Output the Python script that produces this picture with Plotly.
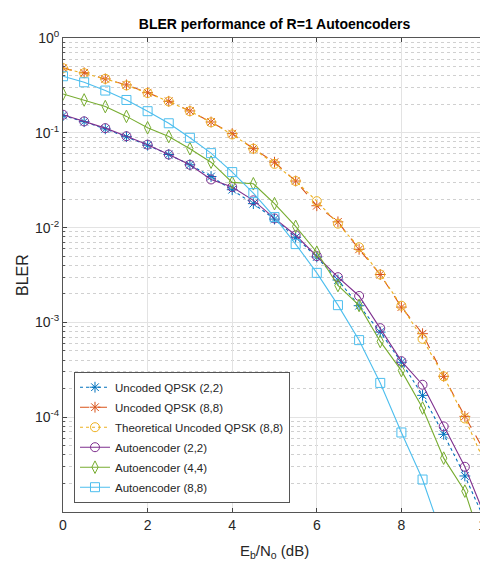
import plotly.graph_objects as go

ebn0 = [0, 0.5, 1, 1.5, 2, 2.5, 3, 3.5, 4, 4.5, 5, 5.5, 6, 6.5, 7, 7.5, 8, 8.5, 9, 9.5, 10]

uncoded_22 = [0.152, 0.131, 0.110, 0.091, 0.074, 0.059, 0.046, 0.0346, 0.0251, 0.0179, 0.0123,
              0.0079, 0.0049, 0.0028, 0.0015, 7.9e-4, 3.8e-4, 1.7e-4, 6.6e-5, 2.4e-5, 7.7e-6]
uncoded_88 = [0.48, 0.43, 0.37, 0.32, 0.265, 0.215, 0.17, 0.13, 0.098, 0.068, 0.049,
              0.031, 0.017, 0.0115, 0.0059, 0.0032, 0.00145, 7.6e-4, 2.7e-4, 1.02e-4, 4.1e-5]
theory_88 = [0.481, 0.426, 0.371, 0.316, 0.263, 0.214, 0.169, 0.129, 0.096, 0.068, 0.047,
             0.031, 0.019, 0.011, 0.0062, 0.0032, 0.0015, 6.7e-4, 2.7e-4, 9.7e-5, 3.1e-5]
ae_22 = [0.155, 0.132, 0.112, 0.092, 0.075, 0.059, 0.046, 0.0322, 0.0268, 0.0194, 0.0125,
         0.0083, 0.0050, 0.0030, 0.0019, 8.7e-4, 3.9e-4, 2.2e-4, 8.0e-5, 3.0e-5, 8.5e-6]
ae_44 = [0.257, 0.222, 0.189, 0.149, 0.113, 0.0914, 0.068, 0.049, 0.030, 0.029, 0.0179,
         0.0103, 0.0055, 0.00245, 0.00151, 6.3e-4, 3.1e-4, 1.25e-4, 3.7e-5, 1.66e-5, 3.4e-6]
ae_88_x = [0, 0.5, 1, 1.5, 2, 2.5, 3, 3.5, 4, 4.5, 5, 5.5, 6, 6.5, 7, 7.5, 8, 8.5, 9]
ae_88 = [0.395, 0.341, 0.279, 0.222, 0.169, 0.126, 0.0886, 0.061, 0.0385, 0.0231, 0.0129,
         0.0067, 0.00333, 0.00152, 6.5e-4, 2.3e-4, 6.9e-5, 2.2e-5, 5.0e-6]

legend_names = ["Uncoded QPSK (2,2)", "Uncoded QPSK (8,8)", "Theoretical Uncoded QPSK (8,8)",
                "Autoencoder (2,2)", "Autoencoder (4,4)", "Autoencoder (8,8)"]
ytick_vals = [1, 0.1, 0.01, 0.001, 0.0001]
ytick_text = ["10<sup>0</sup>", "10<sup>-1</sup>", "10<sup>-2</sup>", "10<sup>-3</sup>", "10<sup>-4</sup>"]
xtick_vals = [0, 2, 4, 6, 8, 10]

FONT = "Liberation Sans, Arial, Helvetica, sans-serif"

series = [
    (ebn0, uncoded_22, legend_names[0], "#0072BD", "dot", "asterisk-open"),
    (ebn0, uncoded_88, legend_names[1], "#D95319", "dash", "asterisk-open"),
    (ebn0, theory_88, legend_names[2], "#EDB120", "dot", "circle-open"),
    (ebn0, ae_22, legend_names[3], "#7E2F8E", "solid", "circle-open"),
    (ebn0, ae_44, legend_names[4], "#77AC30", "solid", "diamond-tall-open"),
    (ae_88_x, ae_88, legend_names[5], "#4DBEEE", "solid", "square-open"),
]

fig = go.Figure()
for xs, ys, name, col, dash, sym in series:
    fig.add_trace(go.Scatter(
        x=xs, y=ys, name=name, mode="lines+markers", legendgroup=name,
        line=dict(color=col, width=1.1, dash=dash),
        marker=dict(symbol=sym, size=9, color=col, line=dict(color=col, width=1)),
        cliponaxis=True,
    ))

# page body has an 8px default margin, so the figure is 8px smaller and shifted
W, H = 480, 561
fig.update_layout(
    width=W, height=H,
    margin=dict(l=55, r=2, t=30, b=57, autoexpand=False),
    paper_bgcolor="white", plot_bgcolor="white",
    font=dict(family=FONT, size=14, color="#262626"),
    title=dict(text="<b>BLER performance of R=1 Autoencoders</b>", x=0.5, xref="paper", xanchor="center",
               y=1 - 16 / H, yanchor="middle", yref="container",
               font=dict(family=FONT, size=14, color="#000000")),
    showlegend=True,
    legend=dict(x=0.026, y=0.296, xanchor="left", yanchor="top",
                bgcolor="white", bordercolor="#555555", borderwidth=1,
                font=dict(family=FONT, size=11.5, color="#262626"),
                itemwidth=30, tracegroupgap=1),
    xaxis=dict(range=[0, 10], tickvals=xtick_vals, ticks="inside", ticklen=4, automargin=False,
               ticklabeloverflow="allow",
               showline=True, linecolor="#555555", linewidth=1, mirror="allticks",
               showgrid=True, gridcolor="#e3e3e3", gridwidth=1, zeroline=False,
               tickfont=dict(family=FONT, size=14, color="#262626")),
    yaxis=dict(type="log", range=[-5, 0], tickvals=ytick_vals, ticktext=ytick_text,
               ticks="inside", ticklen=4, automargin=False, ticklabeloverflow="allow",
               showline=True, linecolor="#555555", linewidth=1, mirror="allticks",
               showgrid=True, gridcolor="#e3e3e3", gridwidth=1, zeroline=False,
               tickfont=dict(family=FONT, size=14, color="#262626"),
               minor=dict(dtick="D1", showgrid=True, gridcolor="#d0d0d0", griddash="dot",
                          gridwidth=1, ticks="inside", ticklen=2, tickcolor="#555555")),
    annotations=[
        dict(text="E<sub>b</sub>/N<sub>o</sub> (dB)", x=0.5, xref="paper", y=-0.084, yref="paper",
             xanchor="center", yanchor="middle", showarrow=False,
             font=dict(family=FONT, size=15, color="#262626")),
        dict(text="BLER", x=-0.097, xref="paper", y=0.5, yref="paper", textangle=-90,
             xanchor="center", yanchor="middle", showarrow=False,
             font=dict(family=FONT, size=16, color="#262626")),
    ],
)

fig.write_html("out.html")
